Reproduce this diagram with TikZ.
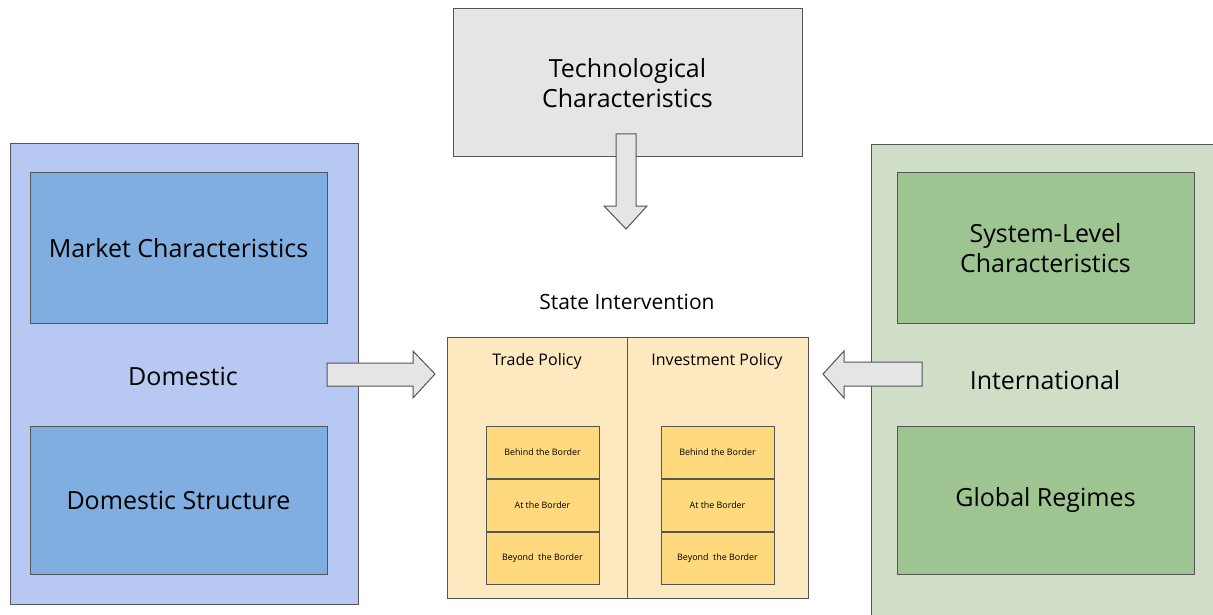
\documentclass[tikz,border=0pt]{standalone}
\usepackage{fontspec}
\setmainfont{Open Sans}
\usetikzlibrary{positioning}
\definecolor{domout}{RGB}{183,201,243}
\definecolor{domin}{RGB}{128,174,224}
\definecolor{intout}{RGB}{208,222,200}
\definecolor{intin}{RGB}{158,197,145}
\definecolor{techgrey}{RGB}{229,229,229}
\definecolor{stateout}{RGB}{254,232,192}
\definecolor{statein}{RGB}{254,217,126}
\definecolor{edge}{RGB}{85,85,85}

\begin{document}
\begin{tikzpicture}[x=1pt, y=-1pt,
    box/.style={draw=edge, line width=1pt, inner sep=0pt, align=center},
    bigtext/.style={font=\fontsize{25}{30}\selectfont},
    midtext/.style={font=\fontsize{21}{25}\selectfont},
    pol/.style={font=\fontsize{16}{19}\selectfont},
    tiny/.style={box, fill=statein, minimum width=113pt, minimum height=52pt,
      font=\fontsize{8.9}{10}\selectfont},
    blockarrow/.style={draw=edge, line width=1pt, fill=techgrey, line join=miter}]
      \useasboundingbox (0, 0) rectangle (1213, 615);
      \clip (0, 0) rectangle (1213, 615);
      % technology
      \node[box, fill=techgrey, bigtext, minimum width=349pt, minimum height=148pt]
        (tech) at (627.5, 83) {Technological\\Characteristics};
      \draw[blockarrow] (616, 134) -- (636, 134) -- (636, 206) -- (647, 206)
        -- (626, 229) -- (604, 206) -- (616, 206) -- cycle;
      % domestic
      \node[box, fill=domout, minimum width=348pt, minimum height=460pt]
        (dom) at (184, 374) {};
      \node[box, fill=domin, bigtext, minimum width=297pt, minimum height=150pt]
        (mkt) at (178.5, 248) {Market Characteristics};
      \node[box, fill=domin, bigtext, minimum width=297pt, minimum height=148pt]
        (dstr) at (178.5, 500) {Domestic Structure};
      \node[bigtext] (domlbl) at (183, 376) {Domestic};
      \draw[blockarrow] (327, 363) -- (413, 363) -- (413, 351) -- (435, 374)
        -- (413, 398) -- (413, 386) -- (327, 386) -- cycle;
      % international
      \node[box, fill=intout, minimum width=370pt, minimum height=490pt, anchor=north west]
        (intl) at (871, 144) {};
      \node[box, fill=intin, bigtext, minimum width=297pt, minimum height=150pt]
        (sys) at (1045.5, 248) {System-Level\\Characteristics};
      \node[box, fill=intin, bigtext, minimum width=297pt, minimum height=148pt]
        (glob) at (1045.5, 500) {Global Regimes};
      \node[bigtext] (intlbl) at (1045, 380) {International};
      \draw[blockarrow] (922, 362) -- (844, 362) -- (844, 351) -- (823, 374)
        -- (844, 398) -- (844, 386) -- (922, 386) -- cycle;
      % state intervention
      \node[midtext] (statelbl) at (627, 302) {State Intervention};
      \node[box, fill=stateout, minimum width=180pt, minimum height=261pt]
        (trade) at (537, 467.5) {};
      \node[box, fill=stateout, minimum width=181pt, minimum height=261pt]
        (invest) at (717.5, 467.5) {};
      \node[pol] at (537, 361) {Trade Policy};
      \node[pol] at (717, 361) {Investment Policy};
      \node[tiny] (tb1) at (542.5, 452) {Behind the Border};
      \node[tiny, below=0pt of tb1] (tb2) {At the Border};
      \node[tiny, below=0pt of tb2] (tb3) {Beyond\ \ the Border};
      \node[tiny] (ib1) at (717.5, 452) {Behind the Border};
      \node[tiny, below=0pt of ib1] (ib2) {At the Border};
      \node[tiny, below=0pt of ib2] (ib3) {Beyond\ \ the Border};
\end{tikzpicture}
\end{document}
